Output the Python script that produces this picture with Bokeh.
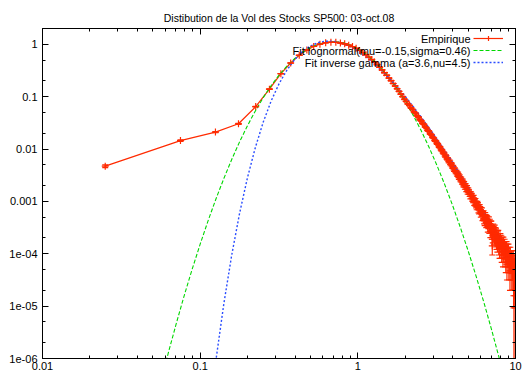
import numpy as np
from bokeh.plotting import figure
from bokeh.models import (Range1d, FixedTicker, LogAxis, Legend, LegendItem, Label,
                          Whisker, TeeHead, ColumnDataSource)
from bokeh.embed import file_html
from bokeh.resources import INLINE
from bokeh.core.properties import value

TITLE = "Distibution de la Vol des Stocks SP500: 03-oct.08"
FONT = "Liberation Sans"

# ---------------- data ----------------
bin_width = 0.05
# histogram counts per bin (bins of width 0.05 starting at 0)
counts = [
    298, 918, 1333, 1922, 4092,
    8790, 17412, 27851, 39010, 49233,
    57721, 63802, 67755, 69288, 68990,
    67198, 64533, 61012, 57220, 52951,
    48402, 44090, 40051, 36030, 32401,
    28970, 25950, 23021, 20560, 18190,
    16214, 14350, 12805, 11310, 10131,
    8962, 8020, 7104, 6347, 5650,
    5160, 4610, 4301, 3862, 3604,
    3225, 3052, 2731, 2580, 2305,
    2190, 1961, 1870, 1672, 1598,
    1431, 1383, 1236, 1190, 1063,
    1032, 921, 897, 801, 781,
    698, 688, 610, 601, 533,
    531, 466, 470, 412, 415,
    365, 371, 322, 330, 288,
    293, 254, 261, 229, 233,
    204, 214, 181, 189, 163,
    171, 148, 156, 131, 139,
    119, 128, 108, 116, 97,
    104, 96, 88, 80, 87, 81, 72, 68, 74, 61,
    60, 64, 55, 51, 56, 53, 45, 43, 48, 44,
    38, 42, 41, 33, 35, 36, 29, 27, 33, 30,
    25, 29, 28, 21, 24, 27, 20, 24, 17, 22,
    22, 16, 9, 14, 19, 17, 13, 18, 12, 16,
    15, 11, 14, 10, 13, 14, 9, 12, 8, 11,
    12, 8, 11, 7, 10, 9, 6, 10, 7, 8,
    9, 6, 8, 5, 7, 8, 4, 7, 6, 5,
    7, 4, 6, 5, 3, 6, 5, 4, 5, 3,
    5, 4, 3, 5, 2, 1, 4, 3, 2, 1,
]

# lognormal fit (mu=-0.15, sigma=0.46)
ln_x = [0.0501, 0.0562, 0.0631, 0.0708, 0.0794, 0.0891, 0.1000, 0.1122, 0.1259, 0.1413,
        0.1585, 0.1778, 0.1995, 0.2239, 0.2512, 0.2818, 0.3162, 0.3548, 0.3981, 0.4467,
        0.5012, 0.5623, 0.6310, 0.7079, 0.7943, 0.8913, 1.0000, 1.1220, 1.2589, 1.4125,
        1.5849, 1.7783, 1.9953, 2.2387, 2.5119, 2.8184, 3.1623, 3.5481, 3.9811, 4.4668,
        5.0119, 5.6234, 6.3096, 7.0795, 7.9433, 8.9125]
ln_y = [8.74e-8, 3.55e-7, 1.352e-6, 4.84e-6, 1.627e-5, 5.14e-5, 1.524e-4, 4.25e-4, 1.112e-3, 2.733e-3,
        6.31e-3, 0.01369, 0.02788, 0.05335, 0.09587, 0.1618, 0.2566, 0.3823, 0.5346, 0.7026,
        0.8670, 1.0051, 1.0945, 1.1194, 1.0753, 0.9703, 0.8223, 0.6547, 0.4895, 0.3438,
        0.2268, 0.1405, 0.08181, 0.04472, 0.02296, 0.01107, 5.017e-3, 2.135e-3, 8.53e-4, 3.20e-4,
        1.129e-4, 3.74e-5, 1.164e-5, 3.40e-6, 9.33e-7, 2.405e-7]

# inverse gamma fit (a=3.6, nu=4.5)
ig_x = [0.1122, 0.1259, 0.1413, 0.1585, 0.1778, 0.1995, 0.2239, 0.2512, 0.2818, 0.3162,
        0.3548, 0.3981, 0.4467, 0.5012, 0.5623, 0.6310, 0.7079, 0.7943, 0.8913, 1.0000,
        1.1220, 1.2589, 1.4125, 1.5849, 1.7783, 1.9953, 2.2387, 2.5119, 2.8184, 3.1623,
        3.5481, 3.9811, 4.4668, 5.0119, 5.6234, 6.3096, 7.0795, 7.9433, 8.9125, 10.0]
ig_y = [5.36e-8, 9.31e-7, 1.109e-5, 9.40e-5, 5.90e-4, 2.832e-3, 0.01070, 0.03264, 0.08236, 0.1753,
        0.3210, 0.5136, 0.7292, 0.9298, 1.0779, 1.1482, 1.1337, 1.0464, 0.9094, 0.7490,
        0.5882, 0.4426, 0.3207, 0.2246, 0.1527, 0.1010, 0.06525, 0.04124, 0.02560, 0.01561,
        9.38e-3, 5.56e-3, 3.258e-3, 1.887e-3, 1.083e-3, 6.17e-4, 3.48e-4, 1.954e-4, 1.090e-4, 6.05e-5]

legend_texts = ["Empirique",
                "Fit lognormal(mu=-0.15,sigma=0.46)",
                "Fit inverse gamma (a=3.6,nu=4.5)"]

x_ticks = [0.01, 0.1, 1, 10]
x_tick_labels = ["0.01", "0.1", "1", "10"]
y_ticks = [1e-6, 1e-5, 1e-4, 1e-3, 1e-2, 1e-1, 1]
y_tick_labels = ["1e-06", "1e-05", "1e-04", "0.001", "0.01", "0.1", "1"]

# ---------------- derived histogram ----------------
c = np.array(counts, dtype=float)
n_total = c.sum()
x_emp = (np.arange(len(c)) + 0.5) * bin_width
dens = c / (n_total * bin_width)
err = np.sqrt(c) / (n_total * bin_width)
src = ColumnDataSource(dict(x=x_emp, y=dens,
                            lower=np.maximum(dens - err, 1e-9), upper=dens + err))

RED = "#ff2a00"
GREEN = "#00d800"
BLUE = "#2a4dff"

FW, FH = 473, 330
p = figure(frame_width=FW, frame_height=FH,
           x_axis_type="log", y_axis_type="log",
           x_range=Range1d(0.01, 10), y_range=Range1d(1e-6, 2.0),
           output_backend="svg", toolbar_location=None,
           min_border_left=42, min_border_right=9, min_border_top=28, min_border_bottom=17,
           title=TITLE)
p.title.align = "center"
p.title.text_font = FONT
p.title.text_font_size = "10.5px"
p.title.text_font_style = "normal"
p.title.text_color = "black"
p.title.standoff = 9
p.title.offset = 0
p.xgrid.visible = False
p.ygrid.visible = False
p.outline_line_color = "black"
p.outline_line_alpha = 1
p.background_fill_color = "white"
p.border_fill_color = "white"

x_minor = [k * 10.0 ** e for e in (-2, -1, 0) for k in range(2, 10)]
y_minor = [k * 10.0 ** e for e in range(-6, 1) for k in (2, 5)]
xticker = FixedTicker(ticks=x_ticks, minor_ticks=x_minor)
yticker = FixedTicker(ticks=y_ticks, minor_ticks=y_minor)


def style_axis(ax):
    ax.axis_line_color = "black"
    ax.axis_line_width = 1
    ax.major_tick_line_color = "black"
    ax.minor_tick_line_color = "black"
    ax.major_tick_in = 6
    ax.major_tick_out = 0
    ax.minor_tick_in = 3
    ax.minor_tick_out = 0
    ax.major_label_text_font = FONT
    ax.major_label_text_font_size = "11px"
    ax.major_label_text_color = "black"


xa = p.xaxis[0]
xa.ticker = xticker
xa.major_label_overrides = dict(zip(x_ticks, x_tick_labels))
style_axis(xa)
xa.major_label_standoff = 3

ya = p.yaxis[0]
ya.ticker = yticker
ya.major_label_overrides = dict(zip(y_ticks, y_tick_labels))
style_axis(ya)
ya.major_label_standoff = 5

top = LogAxis(ticker=xticker, major_label_overrides={t: "" for t in x_ticks})
style_axis(top)
top.major_label_text_font_size = "0px"
top.major_label_standoff = 0
p.add_layout(top, "above")

right = LogAxis(ticker=yticker, major_label_overrides={t: "" for t in y_ticks})
style_axis(right)
right.major_label_text_font_size = "0px"
right.major_label_standoff = 0
p.add_layout(right, "right")

# ---------------- glyphs ----------------
r_line = p.line("x", "y", source=src, line_color=RED, line_width=1.2)
wh = Whisker(base="x", upper="upper", lower="lower", source=src, dimension="height",
             line_color=RED, line_width=1.2, level="glyph",
             upper_head=TeeHead(size=6, line_color=RED, line_width=1.2),
             lower_head=TeeHead(size=6, line_color=RED, line_width=1.2))
p.add_layout(wh)
r_pts = p.scatter("x", "y", source=src, marker="cross", size=7, line_color=RED, line_width=1.2)
r_ln = p.line(ln_x, ln_y, line_color=GREEN, line_width=1.1, line_dash="4 2")
r_ig = p.line(ig_x, ig_y, line_color=BLUE, line_width=1.4, line_dash="2 2")

# legend samples: box placed from the frame's bottom-left corner (screen px)
ROW = 12
legend = Legend(items=[LegendItem(label=value(""), renderers=[r_line, r_pts]),
                       LegendItem(label=value(""), renderers=[r_ln]),
                       LegendItem(label=value(""), renderers=[r_ig])],
                location=(FW - 42, FH - 4 - 3 * ROW), margin=0, padding=0, spacing=0,
                glyph_width=30, glyph_height=ROW, label_width=0, label_standoff=0,
                label_text_font_size="8px", background_fill_alpha=0, border_line_alpha=0)
p.add_layout(legend)

for k, t in enumerate(legend_texts):
    p.add_layout(Label(x=FW - 45, y=FH - 10 - ROW * k, x_units="screen", y_units="screen",
                       text=t, text_align="right", text_baseline="middle",
                       text_font=FONT, text_font_size="11px", text_color="black"))

open("out.html", "w").write(file_html(p, INLINE))
